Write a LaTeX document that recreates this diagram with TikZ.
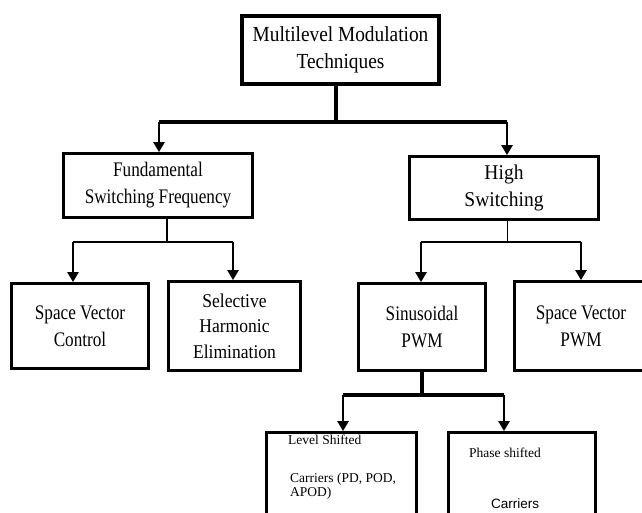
\documentclass[tikz,border=0pt]{standalone}
\usepackage{fontspec}
\setmainfont{Liberation Serif}
\newfontfamily\condA[FakeStretch=0.83]{Liberation Serif}
\newfontfamily\condB[FakeStretch=0.9]{Liberation Serif}
\newfontfamily\condC[FakeStretch=0.93]{Liberation Serif}
\newfontfamily\arialf{Liberation Sans}
\usetikzlibrary{arrows.meta}
\begin{document}
\begin{tikzpicture}[x=1pt,y=-1pt,
  box/.style={draw, line width=2.8pt, inner sep=0pt, align=center},
  bigtext/.style={font=\fontsize{20.7}{27}\selectfont\condA},
  smalltext/.style={font=\fontsize{13.5}{11}\selectfont, anchor=base west, inner sep=0pt},
  conn/.style={line width=3.2pt},
  thinconn/.style={line width=1.6pt},
  hconn/.style={line width=2.2pt},
  arr/.style={line width=2.8pt, -{Triangle[width=11pt,length=10pt]}},
]
\useasboundingbox (0,0) rectangle (642,513);
\clip (0,0) rectangle (642,513);
% boxes
\node[box, line width=3.4pt, minimum width=197pt, minimum height=68pt,
      font=\fontsize{21.5}{27}\selectfont\condB] (top) at (340.5,50) {Multilevel Modulation\\Techniques};
\node[box, bigtext, minimum width=189pt, minimum height=64pt] (fund) at (158,185.5) {Fundamental\\Switching Frequency};
\node[box, font=\fontsize{21}{27}\selectfont\condC, minimum width=189pt, minimum height=63pt] (high) at (504,188) {High\\Switching};
\node[box, bigtext, minimum width=137pt, minimum height=85pt] (svc) at (80,326) {Space Vector\\Control};
\node[box, font=\fontsize{19.5}{25.5}\selectfont\condB, minimum width=132pt, minimum height=89pt] (she) at (234.5,326) {Selective\\Harmonic\\Elimination};
\node[box, bigtext, minimum width=127pt, minimum height=87pt] (sin) at (422,327) {Sinusoidal\\PWM};
\node[box, bigtext, minimum width=133pt, minimum height=89pt] (svp) at (581,326) {Space Vector\\PWM};
\node[box, minimum width=150pt, minimum height=96pt] (lev) at (341.5,480.5) {};
\node[box, minimum width=147pt, minimum height=96pt] (pha) at (522,480.5) {};
% texts of the bottom boxes
\node[smalltext] (lev1) at (288,444) {Level Shifted};
\node[smalltext, align=left, font=\fontsize{13.5}{13.5}\selectfont] (lev2) at (290,496) {Carriers (PD, POD,\\APOD)};
\node[smalltext] (pha1) at (469,457) {Phase shifted};
\node[smalltext, font=\fontsize{13.5}{11}\selectfont\arialf] (pha2) at (491,508) {Carriers};
% connectors level 1
\coordinate (j1) at (336,122);
\coordinate (a1) at (159,122);
\coordinate (a2) at (507,122);
\draw[conn] (j1 |- top.south) -- (j1);
\draw[conn] (a1) -- (a2);
\draw[arr] (a1) -- (a1 |- fund.north);
\draw[arr] (a2) -- (a2 |- high.north);
% connectors from fundamental
\coordinate (j2) at (167,242);
\coordinate (b1) at (73,242);
\coordinate (b2) at (233,242);
\draw[thinconn] (j2 |- fund.south) -- (j2);
\draw[hconn] (b1) -- (b2);
\draw[arr] (b1) -- (b1 |- svc.north);
\draw[arr] (b2) -- (b2 |- she.north);
% connectors from high switching
\coordinate (j3) at (507.5,242);
\coordinate (c1) at (421,242);
\coordinate (c2) at (581,242);
\draw[thinconn] (j3 |- high.south) -- (j3);
\draw[hconn] (c1) -- (c2);
\draw[arr] (c1) -- (c1 |- sin.north);
\draw[arr] (c2) -- (c2 |- svp.north);
% connectors from sinusoidal
\coordinate (j4) at (422,395);
\coordinate (d1) at (343,395);
\coordinate (d2) at (504,395);
\draw[conn] (j4 |- sin.south) -- (j4);
\draw[conn] (d1) -- (d2);
\draw[arr] (d1) -- (d1 |- lev.north);
\draw[arr] (d2) -- (d2 |- pha.north);
\end{tikzpicture}
\end{document}
